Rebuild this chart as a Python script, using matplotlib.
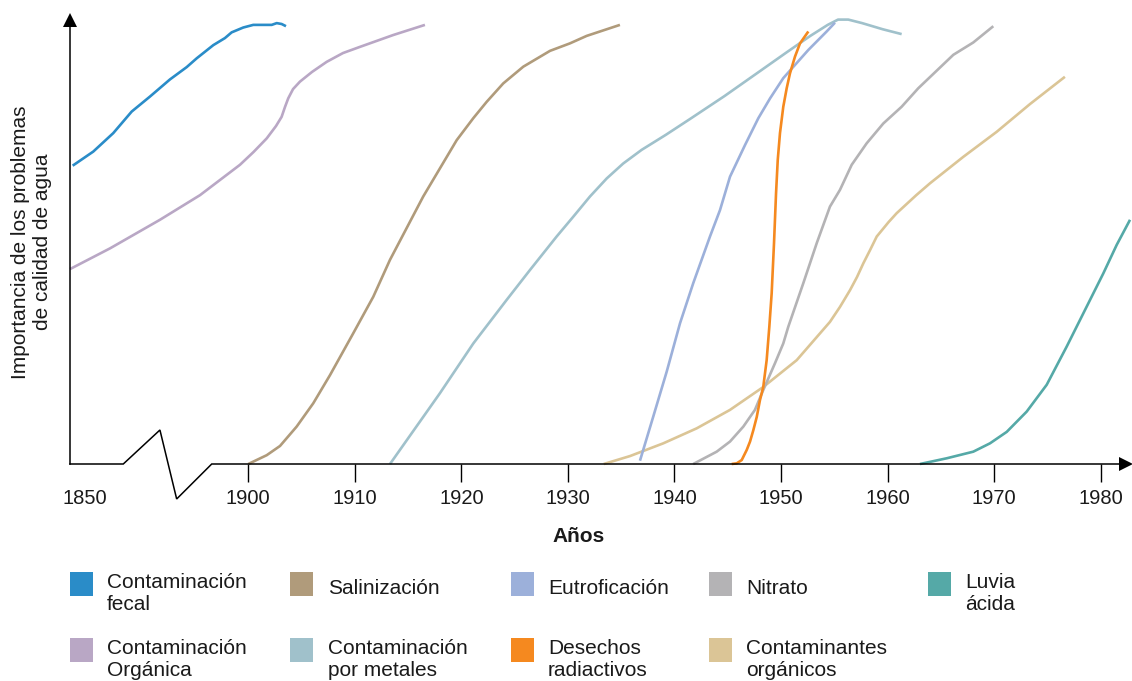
import matplotlib
matplotlib.use("Agg")
import matplotlib.pyplot as plt
from matplotlib.patches import Rectangle

plt.rcParams['font.family'] = ['Liberation Sans', 'DejaVu Sans']

# ---------------- data (x in years on the broken axis, y = relative importance) -------------
fecal_x = [1883.52, 1885.45, 1887.33, 1889.06, 1890.77, 1892.65, 1894.22, 1895.16, 1896.72,
           1897.81, 1898.44, 1899.53, 1900.47, 1902.20, 1902.67, 1903.13, 1903.54]
fecal_y = [67.8, 71.0, 75.2, 80.1, 83.5, 87.4, 90.2, 92.2, 95.2, 96.8, 98.1, 99.2, 99.8, 99.8,
           100.2, 100.0, 99.5]

organica_x = [1883.27, 1887.02, 1891.71, 1895.47, 1899.22, 1900.49, 1901.73, 1902.60, 1903.13,
              1903.44, 1903.75, 1904.20, 1904.85, 1905.98, 1907.36, 1908.89, 1910.48, 1913.61,
              1916.58]
organica_y = [44.3, 49.0, 55.5, 61.1, 68.0, 70.9, 74.0, 76.8, 78.9, 81.1, 83.1, 85.2, 86.9, 89.1,
              91.4, 93.4, 94.8, 97.5, 99.8]

salin_x = [1900.0, 1901.73, 1902.98, 1904.54, 1906.10, 1907.67, 1909.85, 1911.73, 1913.30,
           1916.42, 1919.56, 1921.12, 1922.37, 1923.93, 1925.81, 1928.32, 1930.19, 1931.76,
           1934.88]
salin_y = [0.0, 2.0, 4.1, 8.5, 13.8, 20.2, 29.7, 38.0, 46.4, 60.8, 73.6, 78.6, 82.3, 86.5, 90.3,
           93.9, 95.6, 97.3, 99.8]

metales_x = [1913.30, 1917.99, 1921.12, 1924.25, 1926.44, 1928.94, 1930.50, 1932.07, 1933.64,
             1935.19, 1936.92, 1939.18, 1941.45, 1944.68, 1947.91, 1950.49, 1952.75, 1954.38,
             1955.35, 1956.31, 1957.61, 1959.55, 1961.32]
metales_y = [0.0, 16.1, 27.4, 37.3, 44.1, 51.7, 56.2, 60.8, 64.9, 68.3, 71.4, 74.8, 78.4, 83.6,
             89.1, 93.5, 97.3, 99.8, 101.0, 101.0, 100.2, 98.8, 97.7]

eutro_x = [1936.76, 1938.01, 1939.27, 1940.52, 1941.76, 1943.33, 1944.27, 1945.21, 1946.62,
           1947.87, 1948.97, 1950.21, 1952.56, 1954.28, 1955.06]
eutro_y = [0.75, 10.8, 21.0, 32.0, 41.1, 51.7, 57.7, 65.3, 72.5, 78.6, 83.1, 87.7, 94.1, 98.3, 100.3]

radiact_x = [1945.37, 1945.84, 1946.31, 1946.78, 1947.09, 1947.40, 1947.72, 1948.02, 1948.33,
             1948.65, 1948.90, 1949.12, 1949.34, 1949.53, 1949.69, 1949.90, 1950.21, 1950.53,
             1950.84, 1951.31, 1951.78, 1952.56]
radiact_y = [0.0, 0.15, 0.9, 3.2, 5.1, 7.7, 10.7, 14.5, 17.5, 23.6, 31.2, 38.8, 50.2, 61.5, 69.1,
             75.2, 81.2, 85.4, 88.8, 92.6, 95.6, 98.3]

nitrato_x = [1941.76, 1943.96, 1945.21, 1946.46, 1947.55, 1948.33, 1949.43, 1950.21, 1950.68,
             1952.09, 1953.35, 1954.59, 1955.53, 1956.63, 1958.04, 1959.60, 1961.32, 1962.88,
             1966.17, 1968.04, 1969.92]
nitrato_y = [0.0, 2.8, 5.1, 8.5, 12.3, 16.8, 22.9, 27.4, 31.2, 41.1, 50.2, 58.5, 62.3, 68.0,
             72.9, 77.4, 81.2, 85.4, 93.0, 95.8, 99.5]

contorg_x = [1933.36, 1935.82, 1938.95, 1942.08, 1945.21, 1948.33, 1951.47, 1954.59, 1955.53,
             1956.47, 1957.13, 1957.72, 1958.35, 1958.98, 1960.10, 1960.85, 1962.69, 1963.98,
             1967.10, 1970.24, 1973.36, 1976.64]
contorg_y = [0.0, 1.8, 4.7, 8.1, 12.3, 17.5, 23.6, 32.3, 35.7, 39.5, 42.5, 45.6, 48.6, 51.7, 55.0,
             57.0, 61.1, 63.8, 69.8, 75.5, 81.8, 88.0]

lluvia_x = [1963.04, 1965.55, 1968.04, 1969.61, 1971.18, 1973.05, 1974.93, 1976.81, 1978.69,
            1980.24, 1981.50, 1982.75]
lluvia_y = [0.0, 1.3, 2.8, 4.7, 7.3, 11.9, 18.0, 26.7, 35.8, 43.3, 49.8, 55.5]

series_names = ["Contaminación\nfecal", "Salinización", "Eutroficación", "Nitrato", "Luvia\nácida",
                "Contaminación\nOrgánica", "Contaminación\npor metales", "Desechos\nradiactivos",
                "Contaminantes\norgánicos"]
series_colors = ["#2a8cc8", "#b09b7b", "#9cb0da", "#b4b3b5", "#55a9a7",
                 "#b9a7c5", "#a0c1cb", "#f5891f", "#dbc596"]
series_data = [(fecal_x, fecal_y), (salin_x, salin_y), (eutro_x, eutro_y), (nitrato_x, nitrato_y),
               (lluvia_x, lluvia_y), (organica_x, organica_y), (metales_x, metales_y),
               (radiact_x, radiact_y), (contorg_x, contorg_y)]
draw_order = [5, 0, 1, 6, 8, 3, 2, 7, 4]

tick_labels = ["1850", "1900", "1910", "1920", "1930", "1940", "1950", "1960", "1970", "1980"]
tick_pos = [1884.67, 1900, 1910, 1920, 1930, 1940, 1950, 1960, 1970, 1980]

# ---------------- figure ----------------
W, H = 1132, 681
fig = plt.figure(figsize=(W / 100, H / 100), dpi=100)

X0, X1 = 1883.27, 1981.81
Y1 = 102.5
ax = fig.add_axes([70 / W, (H - 464) / H, (1120 - 70) / W, (464 - 13) / H])
ax.set_xlim(X0, X1)
ax.set_ylim(0, Y1)
for s in ax.spines.values():
    s.set_visible(False)

for i in draw_order:
    xs, ys = series_data[i]
    ax.plot(xs, ys, color=series_colors[i], lw=1.9, solid_capstyle='butt',
            solid_joinstyle='round', clip_on=False, zorder=3)

# broken x axis with zigzag
axis_kw = dict(color="black", lw=1.1, clip_on=False, zorder=4, solid_joinstyle='miter')
ax.plot([X0, 1888.27, 1891.71, 1893.28, 1896.57, 1982.0], [0, 0, 7.73, -7.95, 0, 0], **axis_kw)
ax.plot([1982.37], [0], marker='>', ms=10, color="black", clip_on=False, zorder=5, mew=0)
# y axis with arrow
ax.plot([X0, X0], [0, 99.5], **axis_kw)
ax.plot([X0], [100.9], marker='^', ms=10.5, color="black", clip_on=False, zorder=5, mew=0)

ax.set_yticks([])
ax.set_xticks(tick_pos)
ax.set_xticklabels(tick_labels, fontsize=14.5, color="#1a1a1a")
ax.tick_params(axis='x', direction='out', length=13, width=1.0, pad=5, color="black")
ax.xaxis.get_major_ticks()[0].tick1line.set_visible(False)

fig.text(579 / W, 1 - 537 / H, "Años", fontsize=15, fontweight='bold', ha='center', va='center',
         color="#1a1a1a")
fig.text(32 / W, 1 - 242 / H, "Importancia de los problemas\nde calidad de agua", fontsize=15,
         rotation=90, ha='center', va='center', multialignment='center', color="#1a1a1a",
         linespacing=1.2)

# ---------------- legend (manual, 5 columns x 2 rows) ----------------
col_patch_x = [70, 290, 511, 709, 928]
col_text_x = [107, 328, 548, 746, 965]
row_patch_top = [572, 638]
pw, ph = 23, 24
for k, (name, color) in enumerate(zip(series_names, series_colors)):
    r, c = divmod(k, 5)
    top = row_patch_top[r]
    fig.add_artist(Rectangle((col_patch_x[c] / W, 1 - (top + ph) / H), pw / W, ph / H,
                             transform=fig.transFigure, color=color, lw=0))
    ncl = name.count("\n") + 1
    cy = top + ph / 2 + (4 if ncl == 1 else 9.5)
    fig.text(col_text_x[c] / W, 1 - cy / H, name, fontsize=15, ha='left', va='center',
             color="#1a1a1a", linespacing=1.15)

fig.savefig("out.png", dpi=100)
